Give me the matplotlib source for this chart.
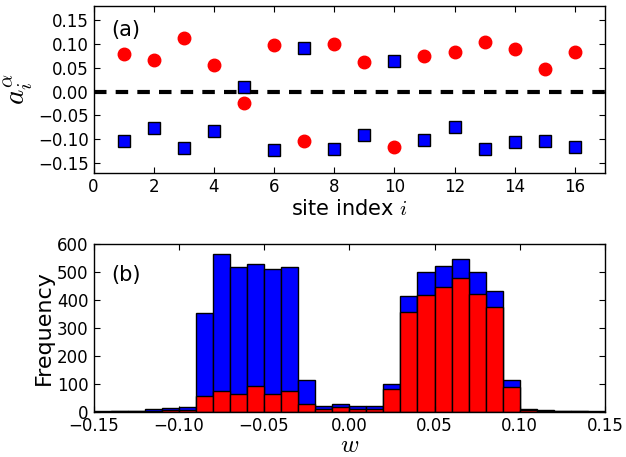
import numpy as np
import matplotlib
matplotlib.use("Agg")
import matplotlib.pyplot as plt

# panel (a): coefficients per site
sites = np.arange(1, 17)
red_vals = [0.080, 0.067, 0.112, 0.056, -0.025, 0.097, -0.103, 0.100,
            0.062, -0.116, 0.075, 0.084, 0.105, 0.090, 0.048, 0.084]
blue_vals = [-0.103, -0.077, -0.118, -0.082, 0.010, -0.123, 0.092, -0.120,
             -0.092, 0.065, -0.102, -0.074, -0.121, -0.107, -0.104, -0.117]

# panel (b): histogram counts, bins of 0.01 from -0.15 to 0.15
bin_edges = np.round(np.arange(-0.15, 0.1501, 0.01), 3)
total_counts = [2, 3, 4, 10, 12, 16, 353, 564, 520, 531, 511, 520, 113, 20,
                28, 20, 20, 101, 415, 502, 523, 547, 499, 433, 112, 11, 6, 3, 3, 1]
red_counts = [0, 1, 1, 2, 7, 5, 55, 74, 64, 91, 64, 73, 28, 9,
              16, 9, 8, 82, 358, 418, 446, 478, 423, 376, 88, 5, 2, 1, 1, 0]

plt.rcParams["mathtext.fontset"] = "cm"
plt.rcParams["xtick.direction"] = "in"
plt.rcParams["ytick.direction"] = "in"
plt.rcParams["xtick.top"] = True
plt.rcParams["ytick.right"] = True
plt.rcParams["xtick.major.size"] = 4
plt.rcParams["ytick.major.size"] = 4

fig = plt.figure(figsize=(6.26, 4.57), dpi=100)
ax1 = fig.add_axes([93.5 / 626, 1 - 173.3 / 457, 511.5 / 626, 167.3 / 457])
ax2 = fig.add_axes([93.5 / 626, 1 - 411.7 / 457, 511.5 / 626, 167.4 / 457])

ax1.axhline(0, color="black", lw=3, dashes=(3, 2.2))
ax1.plot(sites, red_vals, "o", color="red", ms=9, mec="red")
ax1.plot(sites, blue_vals, "s", color="blue", ms=8.5, mec="black", mew=1)
ax1.set_xlim(0, 17)
ax1.set_ylim(-0.172, 0.180)
ax1.set_xticks(np.arange(0, 17, 2))
ax1.set_yticks(np.arange(-0.15, 0.151, 0.05))
ax1.set_yticklabels([f"{v:.2f}".replace("-", "\u2212") for v in np.arange(-0.15, 0.151, 0.05)])
ax1.set_xlabel(r"site index $i$", fontsize=15, labelpad=2)
ax1.set_ylabel(r"$a_i^\alpha$", fontsize=21, labelpad=2)
ax1.text(0.035, 0.82, "(a)", transform=ax1.transAxes, fontsize=15)

widths = np.diff(bin_edges)
ax2.bar(bin_edges[:-1], total_counts, width=widths, align="edge",
        color="blue", edgecolor="black", linewidth=1)
ax2.bar(bin_edges[:-1], red_counts, width=widths, align="edge",
        color="red", edgecolor="black", linewidth=1)
ax2.set_xlim(-0.15, 0.15)
ax2.set_ylim(0, 600)
ax2.set_xticks(np.arange(-0.15, 0.151, 0.05))
ax2.set_xticklabels([f"{v:.2f}".replace("-", "\u2212") for v in np.arange(-0.15, 0.151, 0.05)])
ax2.set_yticks(np.arange(0, 601, 100))
ax2.set_xlabel(r"$w$", fontsize=18)
ax2.xaxis.set_label_coords(0.5, -0.125)
ax2.set_ylabel("Frequency", fontsize=16, labelpad=2)
ax2.text(0.035, 0.78, "(b)", transform=ax2.transAxes, fontsize=15)

for ax in (ax1, ax2):
    ax.tick_params(labelsize=12)
    for s in ax.spines.values():
        s.set_linewidth(1)

fig.savefig("out.png", dpi=100)
